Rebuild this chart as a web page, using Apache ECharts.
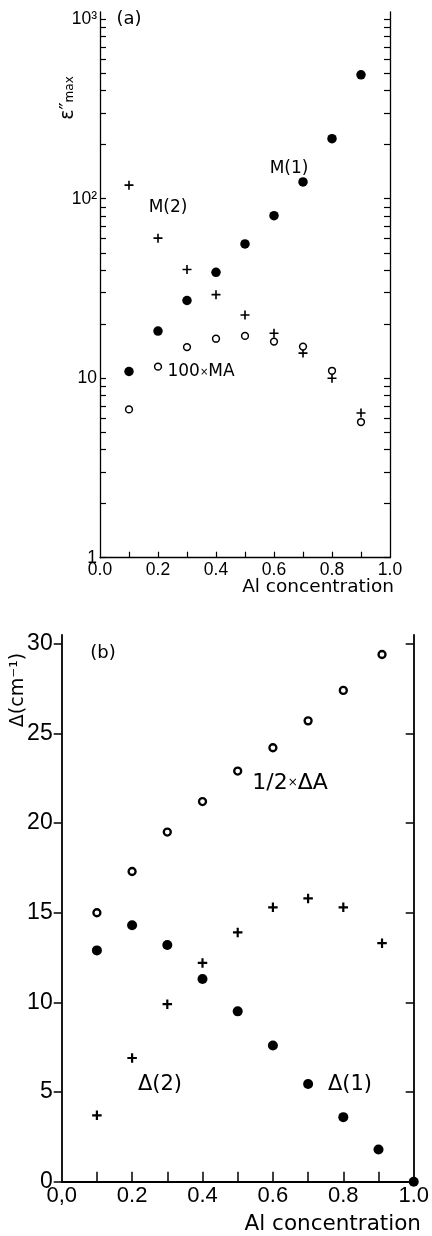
<!DOCTYPE html>
<html>
<head>
<meta charset="utf-8">
<script src="https://cdn.jsdelivr.net/npm/echarts@6/dist/echarts.min.js"></script>
<style>
  html, body { margin: 0; padding: 0; background: #fff; }
  #chart { width: 432px; height: 1236px; }
</style>
</head>
<body>
<div id="chart"></div>
<script>
// panel (a): eps''max vs Al concentration, log scale
const concA = [0.1, 0.2, 0.3, 0.4, 0.5, 0.6, 0.7, 0.8, 0.9]
const epsM1 = [10.9, 18.3, 27.1, 38.9, 56.0, 80.5, 124, 216, 490]
const epsM2 = [119, 60.3, 40.3, 29.2, 22.5, 17.8, 13.8, 10.0, 6.4]
const epsMA100 = [6.7, 11.6, 14.9, 16.6, 17.2, 16.0, 15.0, 11.0, 5.7]
const logTicks = [1, 2, 3, 4, 5, 6, 7, 8, 9, 10, 20, 30, 40, 50, 60, 70, 80, 90,
  100, 200, 300, 400, 500, 600, 700, 800, 900, 1000]
const logLabels = [1, 10, 100, 1000]

// panel (b): Delta (cm-1) vs Al concentration
const concD1 = [0.1, 0.2, 0.3, 0.4, 0.5, 0.6, 0.7, 0.8, 0.9, 1.0]
const delta1 = [12.9, 14.3, 13.2, 11.3, 9.5, 7.6, 5.45, 3.6, 1.8, 0]
const concD2 = [0.1, 0.2, 0.3, 0.4, 0.5, 0.6, 0.7, 0.8, 0.91]
const delta2 = [3.7, 6.9, 9.9, 12.2, 13.9, 15.3, 15.8, 15.3, 13.3]
const halfDeltaA = [15.0, 17.3, 19.5, 21.2, 22.9, 24.2, 25.7, 27.4, 29.4]
const deltaTicks = [0, 5, 10, 15, 20, 25, 30]

const concTicks = [0.1, 0.2, 0.3, 0.4, 0.5, 0.6, 0.7, 0.8, 0.9]
const concLabels = [0, 0.2, 0.4, 0.6, 0.8, 1.0]

const pts = (xs, ys) => xs.map((x, i) => [x, ys[i]])
const plus = t => 'path://M-' + t + ',-10L' + t + ',-10L' + t + ',-' + t + 'L10,-' + t +
  'L10,' + t + 'L' + t + ',' + t + 'L' + t + ',10L-' + t + ',10L-' + t + ',' + t +
  'L-10,' + t + 'L-10,-' + t + 'L-' + t + ',-' + t + 'Z'

const numFont = 'Liberation Sans'
const txtFont = 'DejaVu Sans'

function axisLineStyle (w) {
  return { show: true, onZero: false, lineStyle: { color: '#000', width: w } }
}

function text (str, x, y, size, extra) {
  return Object.assign({
    type: 'text',
    x: x,
    y: y,
    silent: true,
    style: Object.assign({
      text: str,
      fill: '#000',
      fontSize: size,
      fontFamily: txtFont,
      align: 'center',
      verticalAlign: 'middle'
    }, extra && extra.style)
  }, extra && extra.el)
}

const filled = { color: '#000', opacity: 1 }
const open = w => ({ color: '#fff', borderColor: '#000', borderWidth: w, opacity: 1 })

const chartInstance = echarts.init(document.getElementById('chart'))
const initOption = {
  animation: false,
  backgroundColor: '#fff',
  grid: [
    { left: 100, top: 11.8, width: 290, height: 545.9 },
    { left: 61.7, top: 634.8, width: 360.3, height: 546.9 }
  ],
  xAxis: [
    {
      gridIndex: 0,
      type: 'value',
      min: 0,
      max: 1,
      axisLine: axisLineStyle(1.3),
      axisTick: { show: true, inside: true, length: 6, customValues: concTicks, lineStyle: { color: '#000', width: 1.2 } },
      axisLabel: { customValues: concLabels, formatter: v => v.toFixed(1), color: '#000', fontSize: 17.5, fontFamily: numFont, margin: 3 },
      splitLine: { show: false }
    },
    {
      gridIndex: 1,
      type: 'value',
      min: 0,
      max: 1,
      axisLine: axisLineStyle(1.8),
      axisTick: { show: true, inside: true, length: 10, customValues: concTicks, lineStyle: { color: '#000', width: 1.5 } },
      axisLabel: { customValues: concLabels, formatter: v => v === 0 ? '0,0' : v.toFixed(1), color: '#000', fontSize: 22, fontFamily: numFont, margin: 3 },
      splitLine: { show: false }
    }
  ],
  yAxis: [
    {
      gridIndex: 0,
      type: 'log',
      logBase: 10,
      min: 1,
      max: 1100,
      axisLine: axisLineStyle(1.3),
      axisTick: { show: true, inside: true, length: 6, customValues: logTicks, lineStyle: { color: '#000', width: 1.2 } },
      axisLabel: {
        customValues: logLabels,
        formatter: v => {
          const e = Math.round(Math.log10(v))
          return e === 0 ? '1' : e === 1 ? '10' : '10' + ['', '', '²', '³'][e]
        },
        color: '#000',
        fontSize: 17.5,
        fontFamily: numFont,
        margin: 3
      },
      splitLine: { show: false }
    },
    {
      gridIndex: 0,
      type: 'log',
      logBase: 10,
      min: 1,
      max: 1100,
      position: 'right',
      axisLine: axisLineStyle(1.3),
      axisTick: { show: true, inside: true, length: 6, customValues: logTicks, lineStyle: { color: '#000', width: 1.2 } },
      axisLabel: { show: false },
      splitLine: { show: false }
    },
    {
      gridIndex: 1,
      type: 'value',
      min: 0,
      max: 30.5,
      axisLine: axisLineStyle(1.8),
      axisTick: { show: true, inside: false, length: 8, customValues: deltaTicks, lineStyle: { color: '#000', width: 1.5 } },
      axisLabel: { customValues: deltaTicks, color: '#000', fontSize: 23, fontFamily: numFont, margin: 9 },
      splitLine: { show: false }
    },
    {
      gridIndex: 1,
      type: 'value',
      min: 0,
      max: 30.5,
      position: 'right',
      axisLine: axisLineStyle(1.8),
      axisTick: { show: true, inside: true, length: 8, customValues: deltaTicks, lineStyle: { color: '#000', width: 1.5 } },
      axisLabel: { show: false },
      splitLine: { show: false }
    }
  ],
  series: [
    // (a)
    {
      name: 'M(1)', type: 'scatter', xAxisIndex: 0, yAxisIndex: 0, clip: false, silent: true,
      data: pts(concA, epsM1), symbol: 'circle', symbolSize: 9.5, itemStyle: filled
    },
    {
      name: 'M(2)', type: 'scatter', xAxisIndex: 0, yAxisIndex: 0, clip: false, silent: true,
      data: pts(concA, epsM2), symbol: plus(1.8), symbolSize: 9, itemStyle: filled
    },
    {
      name: '100xMA', type: 'scatter', xAxisIndex: 0, yAxisIndex: 0, clip: false, silent: true,
      data: pts(concA, epsMA100), symbol: 'circle', symbolSize: 6.8, itemStyle: open(1.5)
    },
    // (b)
    {
      name: 'D(1)', type: 'scatter', xAxisIndex: 1, yAxisIndex: 2, clip: false, silent: true,
      data: pts(concD1, delta1), symbol: 'circle', symbolSize: 10, itemStyle: filled
    },
    {
      name: 'D(2)', type: 'scatter', xAxisIndex: 1, yAxisIndex: 2, clip: false, silent: true,
      data: pts(concD2, delta2), symbol: plus(2.3), symbolSize: 9.5, itemStyle: filled
    },
    {
      name: 'halfDA', type: 'scatter', xAxisIndex: 1, yAxisIndex: 2, clip: false, silent: true,
      data: pts(concD2, halfDeltaA), symbol: 'circle', symbolSize: 7, itemStyle: open(2.3)
    }
  ],
  graphic: [
    text('(a)', 129, 19, 18),
    text('M(1)', 289, 169, 17),
    text('M(2)', 168, 208, 17),
    text('100{x|×}MA', 201, 372, 17, { style: { rich: { x: { fontSize: 10, fontFamily: txtFont } } } }),
    text('Al concentration', 394, 587, 18.5, { style: { align: 'right' } }),
    text('ε″{s|max}', 68, 98, 19, {
      el: { rotation: Math.PI / 2 },
      style: { rich: { s: { fontSize: 12, fontFamily: txtFont, padding: [3, 0, 0, 0] } } }
    }),
    text('(b)', 103, 653, 18),
    text('1/2{x|×}ΔA', 290, 783, 22, { style: { rich: { x: { fontSize: 12, fontFamily: txtFont } } } }),
    text('Δ(2)', 160, 1085, 21),
    text('Δ(1)', 350, 1085, 21),
    text('Al concentration', 421, 1224, 21.5, { style: { align: 'right' } }),
    text('Δ(cm⁻¹)', 18, 690, 19, { el: { rotation: Math.PI / 2 } })
  ]
}
chartInstance.setOption(initOption)
</script>
</body>
</html>
